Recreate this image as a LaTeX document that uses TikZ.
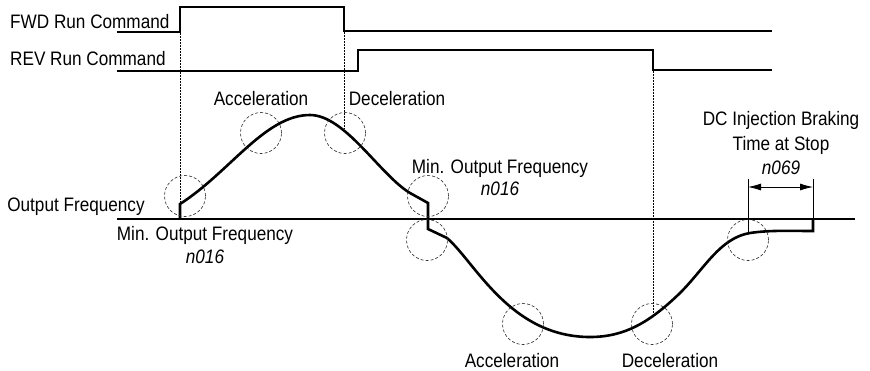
\documentclass[tikz,border=0pt]{standalone}
\usepackage{fontspec}
\setmainfont[FakeStretch=0.88]{Liberation Sans}
\usetikzlibrary{arrows.meta}
\begin{document}
\begin{tikzpicture}[x=1pt,y=-1pt,
  lbl/.style={font=\fontsize{19.5}{21}\selectfont, inner sep=0pt},
  sig/.style={line width=2pt, line join=miter},
  axisline/.style={line width=2.2pt},
  freq/.style={line width=2.6pt, line join=miter},
  guide/.style={line width=0.7pt, dash pattern=on 2pt off 1pt},
  ring/.style={line width=0.6pt, dash pattern=on 3pt off 2pt, black!85},
  dim/.style={line width=0.8pt},
  dimarrow/.style={line width=0.8pt, {Latex[length=13pt,width=7pt]}-{Latex[length=13pt,width=7pt]}}]
\useasboundingbox (0,0) rectangle (870,370);

% labels
\node[lbl, anchor=base west] (fwd) at (10,28) {FWD Run Command};
\node[lbl, anchor=base west] (rev) at (10,65) {REV Run Command};
\node[lbl, anchor=base] (acc1) at (261,105) {Acceleration};
\node[lbl, anchor=base] (dec1) at (397,105) {Deceleration};
\node[lbl, anchor=base] (out) at (76,211) {Output Frequency};
\node[lbl, anchor=base] (minl) at (205,240) {Min. Output Frequency};
\node[lbl, anchor=base] (nl) at (205,263) {\itshape n016};
\node[lbl, anchor=base] (minr) at (500,173) {Min. Output Frequency};
\node[lbl, anchor=base] (nr) at (500,195) {\itshape n016};
\node[lbl, anchor=base] (dc1) at (781,125) {DC Injection Braking};
\node[lbl, anchor=base] (dc2) at (781,150) {Time at Stop};
\node[lbl, anchor=base] (n69) at (781,174) {\itshape n069};
\node[lbl, anchor=base] (acc2) at (512,367) {Acceleration};
\node[lbl, anchor=base] (dec2) at (670,367) {Deceleration};

% signal lines
\draw[sig] (117,32) -- (180,32) -- (180,7) -- (344,7) -- (344,31) -- (772,31);
\draw[sig] (117,71) -- (358,71) -- (358,50) -- (653,50) -- (653,70) -- (772,70);

% coordinates
\coordinate (f0) at (180,219);
\coordinate (f1) at (180,204);
\coordinate (pk) at (310,115);
\coordinate (f2) at (410,193);
\coordinate (f3) at (428,203);
\coordinate (f4) at (428,229);
\coordinate (f5) at (447,238);
\coordinate (bt) at (590,337);
\coordinate (f6) at (680,293);
\coordinate (f7) at (750,233);
\coordinate (f8) at (813,231);
\coordinate (f9) at (813,219);

% guide lines
\draw[guide] (180,33) -- (f1);
\draw[guide] (344,32) -- (344,129);
\draw[guide] (653,71) -- (653,317);

% axis
\draw[axisline] (117,219) -- (855,219);

% output frequency curve
\draw[freq] (f0) -- (f1) .. controls (230,172) and (265,115) .. (pk)
  .. controls (345,115) and (380,175) .. (f2) -- (f3) -- (f4) -- (f5)
  .. controls (475,262) and (510,337) .. (bt)
  .. controls (625,337) and (650,322) .. (f6)
  .. controls (705,268) and (720,238) .. (f7)
  .. controls (770,230) and (790,231) .. (f8) -- (f9);

% dashed rings
\foreach \cx/\cy in {185/196, 261/133, 345/133, 428/196, 427/240, 523/324, 652/324, 748/240}
  \draw[ring] (\cx,\cy) circle[radius=20.5pt];

% dimension
\coordinate (d1) at (748,179);
\coordinate (d2) at (813,179);
\draw[dim] (d1) -- (748,233);
\draw[dim] (d2) -- (f9);
\draw[dimarrow] (748,187) -- (813,187);
\end{tikzpicture}
\end{document}
